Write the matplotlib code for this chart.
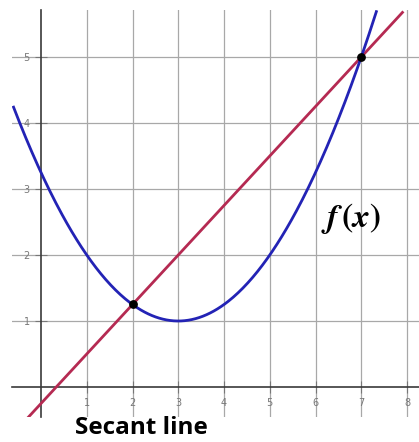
import numpy as np
import matplotlib.pyplot as plt

plt.rcParams['mathtext.fontset'] = 'stix'

# f(x) = a (x - h)^2 + k
a, h, k = 0.25, 3, 1
x_curve = np.linspace(-0.6, 7.33, 300)
y_curve = a * (x_curve - h) ** 2 + k

# secant points
sec_x = [2, 7]
sec_y = [a * (xx - h) ** 2 + k for xx in sec_x]
slope = (sec_y[1] - sec_y[0]) / (sec_x[1] - sec_x[0])
x_line = np.array([-0.33, 7.9])
y_line = sec_y[0] + slope * (x_line - sec_x[0])

xticks = [1, 2, 3, 4, 5, 6, 7, 8]
yticks = [1, 2, 3, 4, 5]

fig = plt.figure(figsize=(4.19, 4.42), dpi=100)
ax = fig.add_axes([12 / 419, 25 / 442, 407 / 419, 407 / 442])
ax.set_xlim(-0.634, 8.262)
ax.set_ylim(-0.4545, 5.712)

for s in ['top', 'right']:
    ax.spines[s].set_visible(False)
ax.spines['left'].set_position(('data', 0))
ax.spines['bottom'].set_position(('data', 0))
for s in ['left', 'bottom']:
    ax.spines[s].set_color('#3a3a3a')
    ax.spines[s].set_linewidth(1.2)

ax.set_xticks(xticks)
ax.set_yticks(yticks)
ax.tick_params(direction='inout', length=9, width=0.8, color='#777777',
               labelsize=7, labelcolor='#777777')
ax.grid(True, color='#a8a8a8', linewidth=0.9)
ax.set_axisbelow(True)

ax.plot(x_line, y_line, color='#b52a52', linewidth=2, zorder=3)
ax.plot(x_curve, y_curve, color='#2323b5', linewidth=2, zorder=4)
ax.scatter(sec_x, sec_y, s=28, color='black', zorder=5)

ax.text(6.78, 2.55, r'$\boldsymbol{f\,(x)}$', fontsize=24, ha='center', va='center')
fig.text(141 / 419, 1 - 428 / 442, 'Secant line', fontsize=17.5, fontweight='bold',
         family='Open Sans', ha='center', va='center')

fig.savefig('out.png', dpi=100)
